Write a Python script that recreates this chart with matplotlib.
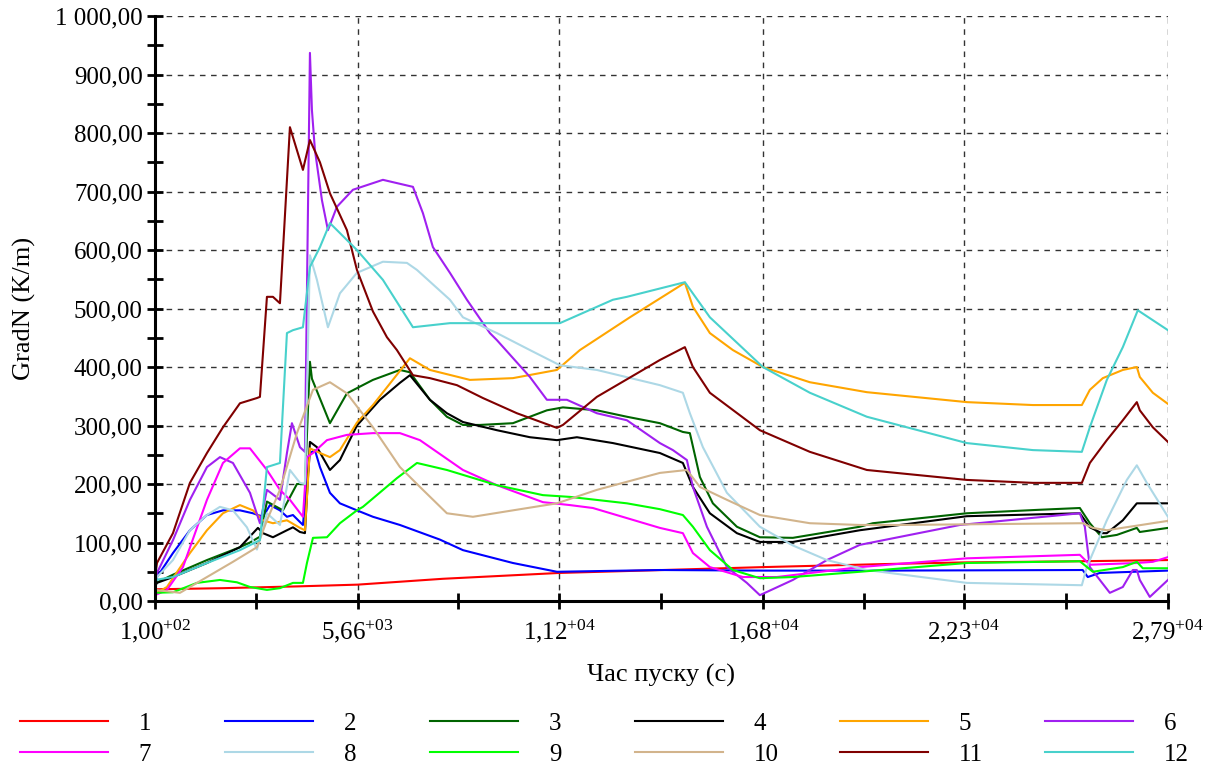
import numpy as np
import matplotlib
matplotlib.use("Agg")
import matplotlib.pyplot as plt
from matplotlib.ticker import FixedLocator, FuncFormatter

plt.rcParams["font.family"] = ["Liberation Serif", "DejaVu Serif"]
plt.rcParams["mathtext.fontset"] = "custom"
plt.rcParams["mathtext.rm"] = "Liberation Serif"
plt.rcParams["mathtext.it"] = "Liberation Serif"

# ────────────────────────────────────────
# data: time [s] / GradN [K/m]
# ────────────────────────────────────────
t1 = [100, 2000, 4000, 5660, 8000, 11200, 14600, 16800, 20000, 22300, 25500, 27900]
g1 = [20, 22, 25, 28, 38, 48, 54, 58, 63, 66, 68, 70]

t2 = [100, 155, 594, 1060, 1527, 1966, 2432, 2789, 3064, 3256, 3530, 3722, 3887,
      4161, 4353, 4490, 4628, 4902, 5176, 5643, 6082, 6823, 7920, 8552, 9924,
      11131, 13957, 16800, 20000, 25560, 25700, 26030, 27900]
g2 = [15, 41, 82, 121, 147, 155, 155, 150, 144, 164, 155, 144, 147,
      130, 253, 258, 229, 185, 167, 155, 144, 130, 105, 87, 65,
      50, 53, 52, 52, 53, 41, 48, 52]

t3 = [100, 594, 1527, 2432, 2707, 2981, 3173, 3612, 3996, 4216, 4353, 4408, 4902,
      5368, 6082, 6823, 7097, 7646, 8112, 8552, 9018, 9924, 10856, 11296, 12228,
      13052, 13957, 14588, 14780, 15055, 15411, 16070, 16701, 17606, 19445, 19802,
      22381, 24384, 25482, 25757, 26086, 26497, 27046, 27128, 27900]
g3 = [30, 45, 70, 92, 100, 110, 170, 155, 200, 200, 409, 380, 304,
      355, 378, 395, 391, 344, 315, 301, 301, 304, 326, 331, 326,
      315, 304, 289, 287, 212, 167, 127, 109, 108, 127, 133,
      150, 156, 159, 133, 109, 113, 125, 118, 125]

t4 = [100, 155, 594, 1527, 2432, 2926, 3064, 3338, 3722, 3887, 4079, 4216, 4353,
      4545, 4902, 5176, 5643, 6274, 6823, 7097, 7646, 8112, 8552, 9484, 10390,
      11131, 11680, 12668, 13957, 14588, 14863, 15329, 16070, 16701, 17606, 19445,
      22381, 25482, 25757, 26086, 26223, 26662, 27046, 27900]
g4 = [25, 31, 41, 65, 92, 125, 116, 109, 121, 126, 118, 116, 272,
      263, 224, 241, 300, 344, 373, 386, 344, 321, 306, 292, 280,
      275, 280, 270, 253, 236, 195, 150, 116, 101, 101, 121,
      145, 150, 126, 116, 116, 138, 167, 167]

t5 = [100, 429, 1060, 1527, 1966, 2432, 2789, 3064, 3338, 3722, 4079, 4216, 4353,
      4628, 4902, 5176, 5643, 6082, 7097, 7646, 8744, 9924, 11131, 11762, 13134,
      14643, 14863, 15329, 15960, 16783, 18073, 19637, 22381, 24192, 25537, 25757,
      26113, 26662, 27046, 27128, 27485, 27900]
g5 = [12, 24, 82, 121, 150, 164, 155, 138, 133, 138, 125, 121, 261,
      253, 246, 258, 305, 335, 415, 395, 378, 381, 395, 429, 485,
      544, 503, 458, 429, 400, 374, 357, 340, 335, 335, 361,
      381, 395, 400, 383, 356, 337]

t6 = [100, 155, 594, 1060, 1527, 1884, 2240, 2707, 2981, 3173, 3530, 3722, 3859,
      4079, 4216, 4353, 4408, 4490, 4683, 4847, 5094, 5533, 6356, 7180, 7454,
      7728, 8195, 8661, 9292, 9484, 10390, 10856, 11405, 12228, 13052, 13957,
      14314, 14698, 14863, 15247, 15796, 16344, 16701, 17606, 18540, 19445, 22189,
      25482, 25619, 25757, 26031, 26305, 26662, 26936, 27046, 27128, 27402, 27900]
g6 = [30, 48, 104, 173, 229, 246, 236, 185, 133, 190, 173, 253, 304,
      263, 255, 937, 839, 771, 685, 634, 674, 703, 720, 708, 663,
      605, 561, 515, 458, 446, 383, 344, 344, 321, 309, 270,
      258, 241, 195, 127, 58, 31, 10, 36, 70, 96, 130,
      150, 127, 58, 36, 14, 24, 53, 53, 36, 7, 36]

t7 = [100, 429, 868, 1527, 1966, 2432, 2707, 3173, 3530, 3804, 4161, 4271, 4436,
      4820, 5368, 6082, 6823, 7372, 8552, 9484, 10747, 11488, 12119, 13957, 14588,
      14863, 15329, 16235, 17167, 19445, 22381, 25482, 25757, 27046, 27485, 27900]
g7 = [10, 19, 58, 173, 236, 261, 261, 224, 190, 173, 144, 246, 253,
      275, 284, 287, 287, 275, 224, 198, 169, 164, 159, 125, 116,
      82, 58, 41, 41, 58, 73, 79, 62, 65, 67, 75]

t8 = [100, 155, 594, 1060, 1527, 1884, 2240, 2624, 2899, 3173, 3530, 3804, 4079,
      4216, 4353, 4545, 4847, 5176, 5643, 6356, 7015, 7290, 8195, 8552, 9484,
      10390, 11213, 12228, 13957, 14588, 14780, 15137, 15796, 16701, 17606, 18540,
      19637, 22381, 25537, 25674, 26223, 26772, 27046, 27320, 27900]
g8 = [30, 41, 70, 121, 147, 161, 155, 126, 88, 150, 130, 224, 202,
      200, 591, 549, 468, 526, 561, 580, 578, 566, 515, 485, 458,
      429, 403, 395, 369, 356, 321, 263, 185, 127, 95, 70,
      53, 31, 27, 58, 138, 207, 232, 202, 144]

t9 = [100, 594, 1252, 1884, 2350, 2707, 3173, 3530, 3887, 4161, 4271, 4436, 4820,
      5176, 5643, 5808, 6740, 7290, 8112, 9484, 10747, 11488, 13052, 13957, 14588,
      14863, 15329, 15960, 16701, 17606, 19445, 22381, 25482, 25839, 26662, 27046,
      27210, 27900]
g9 = [14, 15, 31, 36, 32, 24, 19, 22, 31, 31, 65, 108, 109,
      133, 155, 161, 210, 236, 224, 198, 181, 178, 167, 157, 147,
      127, 87, 53, 39, 41, 50, 65, 68, 50, 58, 67,
      56, 56]

t10 = [100, 786, 1527, 2240, 2899, 3173, 3530, 3996, 4436, 4902, 5368, 6082, 6823,
       7372, 8112, 8826, 9924, 11131, 12228, 13957, 14698, 15055, 15796, 16701,
       18073, 19445, 20543, 25564, 25839, 26223, 27900]
g10 = [19, 14, 41, 67, 92, 138, 190, 287, 361, 374, 355, 297, 229,
       195, 150, 144, 155, 167, 190, 219, 224, 195, 173, 147,
       133, 130, 130, 133, 125, 121, 137]

t11 = [100, 155, 594, 1060, 1527, 1966, 2432, 2899, 2981, 3173, 3338, 3530, 3650,
       3804, 4161, 4353, 4628, 4902, 5368, 5643, 6082, 6466, 6740, 7180, 7646,
       8387, 9100, 10033, 11131, 11296, 12228, 13957, 14643, 14863, 15329, 16701,
       18073, 19637, 22381, 24192, 25537, 25757, 26223, 26662, 27046, 27128, 27485,
       27900]
g11 = [40, 65, 116, 202, 253, 297, 338, 347, 349, 520, 520, 509, 640,
       810, 737, 788, 750, 697, 634, 566, 495, 451, 429, 386, 381,
       369, 347, 321, 296, 301, 349, 412, 434, 400, 356, 292,
       255, 224, 207, 202, 202, 236, 275, 309, 340, 326, 297,
       272]

t12 = [100, 594, 1527, 2432, 2981, 3173, 3530, 3722, 3887, 4161, 4353, 4628, 4902,
       5643, 6356, 7180, 8195, 9567, 11213, 12668, 13052, 14643, 15329, 16783,
       18073, 19637, 22381, 24192, 25537, 25757, 26223, 26662, 27073, 27900]
g12 = [36, 41, 65, 87, 104, 229, 236, 458, 463, 468, 571, 605, 646,
       600, 549, 468, 475, 475, 475, 515, 520, 545, 485, 400,
       356, 315, 270, 258, 255, 297, 378, 434, 497, 463]

SERIES = [(t1, g1), (t2, g2), (t3, g3), (t4, g4), (t5, g5), (t6, g6),
          (t7, g7), (t8, g8), (t9, g9), (t10, g10), (t11, g11), (t12, g12)]
LABELS = [str(i) for i in range(1, 13)]
COLORS = ["#ff0000", "#0000ff", "#006400", "#000000", "#ffa500", "#a020f0",
          "#ff00ff", "#add8e6", "#00ff00", "#d2b48c", "#800000", "#48d1cc"]

X_MAJOR = [100, 5660, 11200, 16800, 22300, 27900]
X_MINOR = [2880, 8430, 14000, 19550, 25100]
X_LABELS = ["1,00$^{+02}$", "5,66$^{+03}$", "1,12$^{+04}$",
            "1,68$^{+04}$", "2,23$^{+04}$", "2,79$^{+04}$"]

FS = 18   # tick / legend font size


def y_fmt(v, _pos):
    return f"{v:,.2f}".replace(",", " ").replace(".", ",")


fig = plt.figure(figsize=(12.24, 7.67), dpi=100)
ax = fig.add_axes([0.1266, 0.2164, 0.8276, 0.7627])

lines = []
for (t, g), lab, c in zip(SERIES, LABELS, COLORS):
    ln, = ax.plot(t, g, color=c, lw=1.5, label=lab)
    lines.append(ln)

ax.set_xlim(100, 27900)
ax.set_ylim(0, 1000)
ax.xaxis.set_major_locator(FixedLocator(X_MAJOR))
ax.xaxis.set_minor_locator(FixedLocator(X_MINOR))
ax.set_xticklabels(X_LABELS)
ax.yaxis.set_major_locator(FixedLocator(np.arange(0, 1001, 100)))
ax.yaxis.set_minor_locator(FixedLocator(np.arange(50, 1000, 100)))
ax.yaxis.set_major_formatter(FuncFormatter(y_fmt))

for side in ("top", "right"):
    ax.spines[side].set_visible(False)
for side in ("left", "bottom"):
    ax.spines[side].set_linewidth(2.2)

ax.tick_params(which="both", direction="inout", length=11.5, width=2,
               labelsize=FS, pad=3)
ax.tick_params(axis="x", pad=6)
ax.grid(True, which="major", color="#333333", ls=(0, (4, 4)), lw=1.0)
ax.set_axisbelow(True)

ax.set_xlabel("Час пуску (с)", fontsize=19, labelpad=14)
ax.set_ylabel("GradN (K/m)", fontsize=19, labelpad=14)

# legend: six fixed-pitch columns, 1..6 on top row, 7..12 below
col_x = [20, 225, 430, 635, 840, 1045]
for k, x0 in enumerate(col_x):
    leg = fig.legend([lines[k], lines[k + 6]], [LABELS[k], LABELS[k + 6]],
                     loc="upper left", bbox_to_anchor=(x0 / 1224, 1 - 712 / 767),
                     frameon=False, fontsize=FS, handlelength=3.5,
                     handletextpad=1.25, labelspacing=0.35, borderpad=0,
                     borderaxespad=0)

fig.savefig("out.png", dpi=100)
